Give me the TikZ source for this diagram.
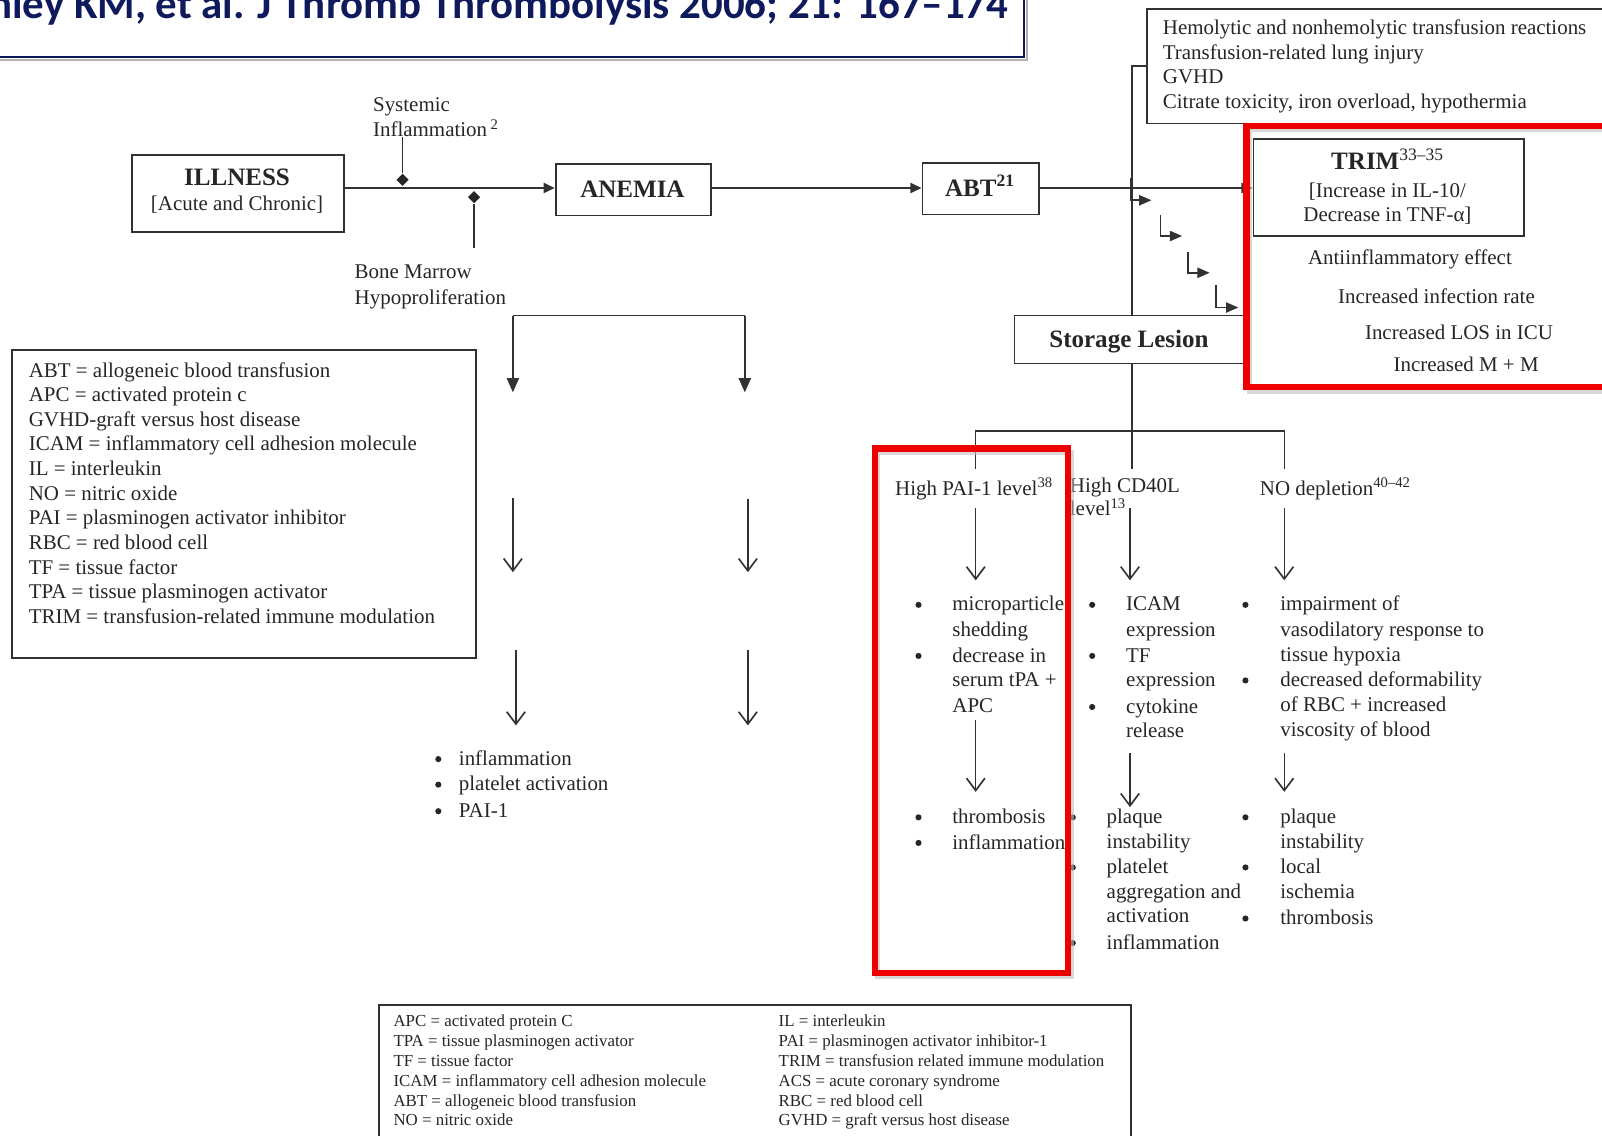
\documentclass[tikz,border=0pt]{standalone}
\usepackage{fontspec}
\setmainfont{Liberation Serif}
\newfontfamily\citefont{Carlito}
\usetikzlibrary{arrows.meta,shapes.geometric}

\definecolor{ink}{RGB}{38,38,38}
\definecolor{rule}{RGB}{50,50,50}
\definecolor{navy}{RGB}{14,26,92}
\definecolor{alert}{RGB}{238,0,0}

\begin{document}
\begin{tikzpicture}[x=1pt,y=-1pt,
  txt/.style={inner sep=0pt, anchor=base west, text=ink, font=\fontsize{20.5}{24}\selectfont},
  ctxt/.style={txt, anchor=base},
  bold/.style={inner sep=0pt, anchor=base, text=ink, font=\fontsize{24.5}{28}\selectfont\bfseries},
  small/.style={inner sep=0pt, anchor=base west, text=ink, font=\fontsize{16.5}{19}\selectfont},
  frame/.style={draw=rule, line width=1.7pt, inner sep=0pt},
  link/.style={draw=rule, line width=1.5pt},
  tip/.style={-{Triangle[length=11pt,width=10pt]}},
  bigtip/.style={-{Triangle[length=14pt,width=12pt]}},
  stairtip/.style={-{Triangle[length=12pt,width=10pt]}},
  vtip/.style={-{Straight Barb[length=12pt,width=18pt,line width=1.6pt]}},
  knot/.style={diamond, fill=ink, inner sep=0pt, minimum size=12pt},
  dot/.style={circle, fill=ink, inner sep=0pt, minimum size=6pt},
  hilite/.style={draw=alert, line width=6pt},
  haze/.style={draw=black!25, line width=5pt, opacity=0.6}
]
\useasboundingbox (0,0) rectangle (1568,1111);
\clip (0,0) rectangle (1568,1111);
\fill[white] (0,0) rectangle (1568,1111);

% ---- citation banner
\node[anchor=base east, inner sep=0pt, text=navy,
      font=\citefont\bfseries\fontsize{42}{46}\selectfont] (cite) at (987,18)
      {nley KM, et al. J Thromb Thrombolysis 2006; 21: 167–174};
\draw[black!30, line width=2pt] (-5,59) -- (1005,59) -- (1005,-5);
\draw[navy, line width=2.2pt] (-5,56) -- (1002,56) -- (1002,-5);

% ---- transfusion complications box
\node[frame, anchor=north west, minimum width=470pt, minimum height=112pt] (react) at (1122,8) {};
\foreach \t [count=\i] in {Hemolytic and nonhemolytic transfusion reactions,
    Transfusion-related lung injury, GVHD, {Citrate toxicity, iron overload, hypothermia}}
  \node[txt] (react-\i) at (1138,10+24*\i) {\t};

% ---- main chain
\coordinate (spine) at (0,184);
\node[frame, anchor=north west, minimum width=208pt, minimum height=75pt] (illness) at (128,151) {};
\node[bold] (illness-t) at (232,182) {ILLNESS};
\node[ctxt] (illness-s) at (232,206) {[Acute and Chronic]};

\node[frame, anchor=north west, minimum width=152pt, minimum height=50pt] (anemia) at (543,160) {};
\node[bold] (anemia-t) at (619,193) {ANEMIA};

\node[frame, anchor=north west, minimum width=114pt, minimum height=50pt] (abt) at (902,159) {};
\node[bold] (abt-t) at (959,192) {ABT\textsuperscript{21}};

\node[frame, anchor=north west, minimum width=265pt, minimum height=95pt] (trim) at (1226,135) {};
\node[bold] (trim-t) at (1358,166) {TRIM\textsuperscript{\normalfont 33–35}};
\node[ctxt] (trim-a) at (1358,193) {[Increase in IL-10/};
\node[ctxt] (trim-b) at (1358,217) {Decrease in TNF-α]};

\draw[link,tip] (illness.east |- spine) -- (anemia.west |- spine);
\draw[link,tip] (anemia.east |- spine) -- (abt.west |- spine);
\draw[link,tip] (abt.east |- spine) -- (trim.west |- spine);

% ---- modifiers on the first step
\node[txt] (sys-a) at (365,109) {Systemic};
\node[txt] (sys-b) at (365,134) {Inflammation\,\textsuperscript{2}};
\coordinate (sys-top) at (394,134);
\node[knot] (sys-k) at (394,176) {};
\draw[link] (sys-top) -- (sys-k);

\node[knot] (bm-k) at (464,193) {};
\coordinate (bm-bot) at (464,243);
\draw[link] (bm-bot) -- (bm-k);
\node[txt] (bm-a) at (347,273) {Bone Marrow};
\node[txt] (bm-b) at (347,298) {Hypoproliferation};

% ---- TRIM consequences
\node[ctxt] (eff-1) at (1380,259) {Antiinflammatory effect};
\node[ctxt] (eff-2) at (1406,297) {Increased infection rate};
\node[ctxt] (eff-3) at (1428,332) {Increased LOS in ICU};
\node[ctxt] (eff-4) at (1435,364) {Increased M + M};

% ---- storage lesion trunk
\node[frame, anchor=north west, minimum width=230pt, minimum height=47pt] (storage) at (992,308) {};
\node[bold] (storage-t) at (1105,340) {Storage Lesion};
\draw[link] (react.west) -| (storage.north);

% stepped arrows
\draw[link,stairtip] (1107,174) |- (1127,196);
\draw[link,stairtip] (1136,210) |- (1157,231);
\draw[link,stairtip] (1163,247) |- (1184,267);
\draw[link,stairtip] (1190,279) |- (1212,301);

% ---- three branches below storage lesion
\coordinate (fork) at (storage.south |- 0,422);
\coordinate (pai-top) at (955,459);
\coordinate (cd-top) at (storage.south |- 0,459);
\coordinate (no-top) at (1257,459);
\draw[link] (storage.south) -- (cd-top);
\draw[link] (pai-top) |- (fork) -| (no-top);

\node[txt] (pai-h) at (876,485) {High PAI-1 level\textsuperscript{38}};
\node[txt] (cd-h1) at (1047,482) {High CD40L};
\node[txt] (cd-h2) at (1047,505) {level\textsuperscript{13}};
\node[txt] (no-h) at (1233,485) {NO depletion\textsuperscript{40–42}};

\draw[link,vtip] (955,497) -- (955,568);
\draw[link,vtip] (1106,497) -- (1106,568);
\draw[link,vtip] (1257,497) -- (1257,568);

% PAI-1 column
\foreach \y in {592,642,800,825} \node[dot] at (899,\y) {};
\foreach \t/\y [count=\i] in {microparticle/598, shedding/623, decrease in/648, serum tPA +/672, APC/697,
    thrombosis/806, inflammation/831}
  \node[txt] (pai-\i) at (932,\y) {\t};
\draw[link,vtip] (955,705) -- (955,775);

% CD40L column
\foreach \y in {592,642,692} \node[dot] at (1069,\y) {};
\foreach \t/\y [count=\i] in {ICAM/598, expression/623, TF/648, expression/672, cytokine/698, release/722}
  \node[txt] (cd-\i) at (1102,\y) {\t};
\draw[link,vtip] (1106,737) -- (1106,790);
\foreach \y in {800,849,923} \node[dot] at (1050,\y) {};
\foreach \t/\y [count=\i] in {plaque/806, instability/830, platelet/855, aggregation and/879, activation/903, inflammation/929}
  \node[txt] (cdx-\i) at (1083,\y) {\t};

% NO column
\foreach \y in {592,666} \node[dot] at (1219,\y) {};
\foreach \t/\y [count=\i] in {impairment of/598, vasodilatory response to/623, tissue hypoxia/647,
    decreased deformability/672, of RBC + increased/696, viscosity of blood/721}
  \node[txt] (no-\i) at (1253,\y) {\t};
\draw[link,vtip] (1257,737) -- (1257,775);
\foreach \y in {800,849,899} \node[dot] at (1219,\y) {};
\foreach \t/\y [count=\i] in {plaque/806, instability/830, local/855, ischemia/879, thrombosis/905}
  \node[txt] (nox-\i) at (1253,\y) {\t};

% ---- left branch pair
\coordinate (lb-l) at (502,309);
\coordinate (lb-r) at (729,309);
\coordinate (lb-l1) at (502,384);
\coordinate (lb-r1) at (729,384);
\draw[link] (lb-l) -- (lb-r);
\draw[link,bigtip] (lb-l) -- (lb-l1);
\draw[link,bigtip] (lb-r) -- (lb-r1);
\draw[link,vtip] (502,487) -- (502,560);
\draw[link,vtip] (732,488) -- (732,560);
\draw[link,vtip] (505,636) -- (505,710);
\draw[link,vtip] (732,636) -- (732,710);
\foreach \y in {743,768,794} \node[dot] at (429,\y) {};
\foreach \t/\y [count=\i] in {inflammation/749, platelet activation/774, PAI-1/800}
  \node[txt] (lb-\i) at (449,\y) {\t};

% ---- abbreviations, left
\node[frame, anchor=north west, minimum width=454pt, minimum height=301pt] (abbr) at (11,342) {};
\foreach \t [count=\i] in {ABT = allogeneic blood transfusion, APC = activated protein c,
    GVHD-graft versus host disease, ICAM = inflammatory cell adhesion molecule,
    IL = interleukin, NO = nitric oxide, PAI = plasminogen activator inhibitor,
    RBC = red blood cell, TF = tissue factor, TPA = tissue plasminogen activator,
    TRIM = transfusion-related immune modulation}
  \node[txt] (abbr-\i) at (28,345+24.1*\i) {\t};

% ---- abbreviations, bottom
\node[frame, anchor=north west, minimum width=736pt, minimum height=150pt] (abbr2) at (370,983) {};
\foreach \t [count=\i] in {APC = activated protein C, TPA = tissue plasminogen activator,
    TF = tissue factor, ICAM = inflammatory cell adhesion molecule,
    ABT = allogeneic blood transfusion, NO = nitric oxide}
  \node[small] (abbl-\i) at (385,985.6+19.4*\i) {\t};
\foreach \t [count=\i] in {IL = interleukin, PAI = plasminogen activator inhibitor-1,
    TRIM = transfusion related immune modulation, ACS = acute coronary syndrome,
    RBC = red blood cell, GVHD = graft versus host disease}
  \node[small] (abbr2-\i) at (762,985.6+19.4*\i) {\t};

% ---- highlight frames with a soft drop shadow
\draw[haze] (1223,127) rectangle (1584,383);
\draw[haze] (859,443) rectangle (1049,956);
\draw[hilite] (1220,123) rectangle (1580,379);
\draw[hilite] (856,439) rectangle (1045,952);
\end{tikzpicture}
\end{document}
